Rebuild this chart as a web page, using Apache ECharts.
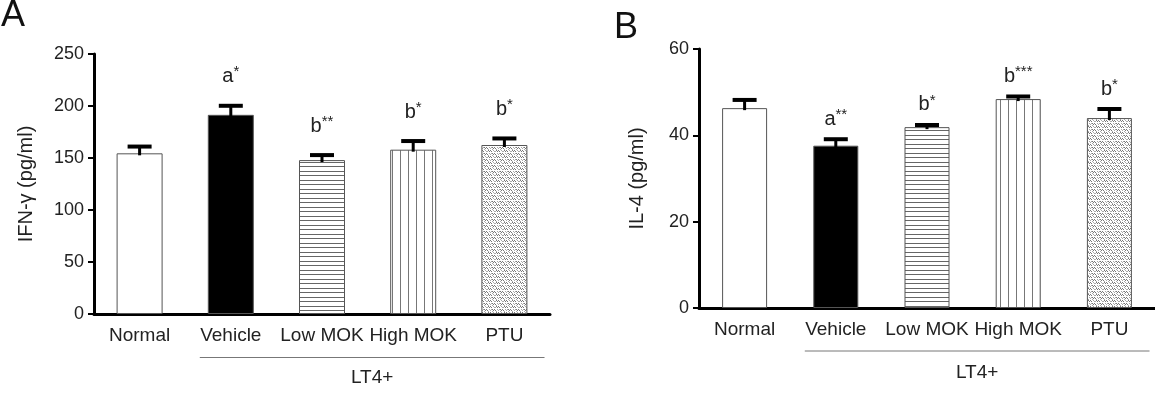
<!DOCTYPE html>
<html>
<head>
<meta charset="utf-8">
<script src="https://cdn.jsdelivr.net/npm/echarts@6/dist/echarts.min.js"></script>
<style>
html,body{margin:0;padding:0;background:#fff;}
#main{width:1155px;height:396px;}
</style>
</head>
<body>
<div id="main"></div>
<script>
// ---------- data ----------
const categories = ['Normal', 'Vehicle', 'Low MOK', 'High MOK', 'PTU'];
const ifnValues = [154.5, 191.5, 148.0, 158.0, 162.5];
const ifnErrors = [6.5, 8.7, 4.8, 8.3, 6.3];
const ifnMarks = ['', 'a*', 'b**', 'b*', 'b*'];
const il4Values = [46.3, 37.6, 41.9, 48.4, 44.0];
const il4Errors = [1.9, 1.5, 0.5, 0.6, 2.1];
const il4Marks = ['', 'a**', 'b*', 'b***', 'b*'];
const ifnTicks = [0, 50, 100, 150, 200, 250];
const il4Ticks = [0, 20, 40, 60];
const groupLabel = 'LT4+';

const FONT = '"Liberation Sans", Arial, sans-serif';
const TXT = '#222';

// ---------- patterns ----------
function mkCanvas(w, h, draw) {
  const c = document.createElement('canvas');
  c.width = w; c.height = h;
  const ctx = c.getContext('2d');
  ctx.fillStyle = '#fff'; ctx.fillRect(0, 0, w, h);
  draw(ctx);
  return c;
}
const hStripes = mkCanvas(8, 9, ctx => {
  ctx.fillStyle = '#666';
  ctx.fillRect(0, 0, 8, 1);
  ctx.fillRect(0, 4, 8, 1);
});
const vStripes = mkCanvas(8, 8, ctx => {
  ctx.fillStyle = '#777';
  ctx.fillRect(0, 0, 1, 8);
});
const dots = mkCanvas(8, 6, ctx => {
  ctx.fillStyle = '#777';
  [[0,0],[1,1],[2,0],[4,3],[5,4],[6,3],[3,1],[7,4]].forEach(p => ctx.fillRect(p[0], p[1], 1, 1));
  ctx.fillStyle = '#aaa';
  [[1,3],[2,4],[5,0],[6,1],[0,5],[4,5],[3,3],[7,1]].forEach(p => ctx.fillRect(p[0], p[1], 1, 1));
});
const fills = [
  '#ffffff',
  '#000000',
  { image: hStripes, repeat: 'repeat' },
  { image: vStripes, repeat: 'repeat' },
  { image: dots, repeat: 'repeat' }
];

function barData(vals) {
  return vals.map((v, i) => ({
    value: v,
    itemStyle: { color: fills[i], borderColor: '#555', borderWidth: 1 }
  }));
}

function errRender(marks, labelGap) {
  return function (params, api) {
    const i = api.value(0);
    const v = api.value(1);
    const e = api.value(2);
    const base = api.coord([i, v]);
    const top = api.coord([i, v + e]);
    const children = [
      { type: 'line', shape: { x1: top[0], y1: base[1] + 2, x2: top[0], y2: top[1] },
        style: { stroke: '#000', lineWidth: 3 } },
      { type: 'line', shape: { x1: top[0] - 12, y1: top[1], x2: top[0] + 12, y2: top[1] },
        style: { stroke: '#000', lineWidth: 4 } }
    ];
    const m = marks[params.dataIndex];
    if (m) {
      const letter = m.charAt(0);
      const stars = m.slice(1);
      children.push({
        type: 'text',
        style: {
          x: top[0], y: top[1] - labelGap,
          text: '{l|' + letter + '}{s|' + stars + '}',
          align: 'center', verticalAlign: 'middle',
          rich: {
            l: { fontSize: 20, fontFamily: FONT, fill: TXT, lineHeight: 22, verticalAlign: 'bottom' },
            s: { fontSize: 15, fontFamily: FONT, fill: TXT, lineHeight: 22, verticalAlign: 'top' }
          }
        }
      });
    }
    return { type: 'group', children };
  };
}

function errData(vals, errs) {
  return vals.map((v, i) => [i, v, errs[i]]);
}

function yAxisCfg(ticks, name, gridIndex, nameGap) {
  return {
    type: 'value', gridIndex,
    min: ticks[0], max: ticks[ticks.length - 1], interval: ticks[1] - ticks[0],
    name, nameLocation: 'middle', nameGap, nameRotate: 90,
    nameTextStyle: { fontSize: 20, fontFamily: FONT, color: TXT },
    axisLine: { show: true, lineStyle: { color: '#000', width: 3 } },
    axisTick: { show: true, length: 6, lineStyle: { color: '#000', width: 2 } },
    axisLabel: { fontSize: 18, fontFamily: FONT, color: TXT, margin: 10 },
    splitLine: { show: false }
  };
}
function xAxisCfg(gridIndex) {
  return {
    type: 'category', gridIndex, data: categories,
    axisLine: { lineStyle: { color: '#000', width: 3 } },
    axisTick: { show: false },
    axisLabel: { fontSize: 19, fontFamily: FONT, color: TXT, margin: 12, interval: 0 },
    splitLine: { show: false }
  };
}

const chart = echarts.init(document.getElementById('main'), null, { renderer: 'canvas' });
const option = {
  backgroundColor: '#fff',
  animation: false,
  grid: [
    { left: 94, top: 54, width: 456, height: 260 },
    { left: 699, top: 49, width: 456, height: 259 }
  ],
  xAxis: [xAxisCfg(0), xAxisCfg(1)],
  yAxis: [
    yAxisCfg(ifnTicks, 'IFN-γ (pg/ml)', 0, 58),
    yAxisCfg(il4Ticks, 'IL-4 (pg/ml)', 1, 52)
  ],
  title: [
    { text: 'A', left: -4, top: -7, textStyle: { fontSize: 36, fontWeight: 'normal', fontFamily: FONT, color: '#111' } },
    { text: 'B', left: 609, top: 5, textStyle: { fontSize: 36, fontWeight: 'normal', fontFamily: FONT, color: '#111' } }
  ],
  series: [
    { type: 'bar', xAxisIndex: 0, yAxisIndex: 0, barWidth: 46, data: barData(ifnValues), z: 2 },
    { type: 'custom', xAxisIndex: 0, yAxisIndex: 0, renderItem: errRender(ifnMarks, 30), data: errData(ifnValues, ifnErrors), z: 3 },
    { type: 'bar', xAxisIndex: 1, yAxisIndex: 1, barWidth: 45, data: barData(il4Values), z: 2 },
    { type: 'custom', xAxisIndex: 1, yAxisIndex: 1, renderItem: errRender(il4Marks, 21), data: errData(il4Values, il4Errors), z: 3 }
  ]
};
chart.setOption(option);

// group bracket "LT4+" under Vehicle..PTU, positioned from the category axis
function groupGraphic(axisIdx, yIdx, lineDy, textDy) {
  const first = chart.convertToPixel({ xAxisIndex: axisIdx }, 'Vehicle');
  const second = chart.convertToPixel({ xAxisIndex: axisIdx }, 'Low MOK');
  const last = chart.convertToPixel({ xAxisIndex: axisIdx }, 'PTU');
  const band = second - first;
  const y0 = chart.convertToPixel({ yAxisIndex: yIdx }, 0);
  const x1 = first - 0.34 * band;
  const x2 = last + 0.44 * band;
  return [
    { type: 'line', shape: { x1, y1: y0 + lineDy, x2, y2: y0 + lineDy }, style: { stroke: '#777', lineWidth: 1 } },
    { type: 'text', style: { x: (x1 + x2) / 2, y: y0 + textDy, text: groupLabel, align: 'center', verticalAlign: 'middle',
      font: '19px ' + FONT, fill: TXT } }
  ];
}
chart.setOption({
  graphic: groupGraphic(0, 0, 43.5, 63.5).concat(groupGraphic(1, 1, 43, 65))
});
</script>
</body>
</html>
